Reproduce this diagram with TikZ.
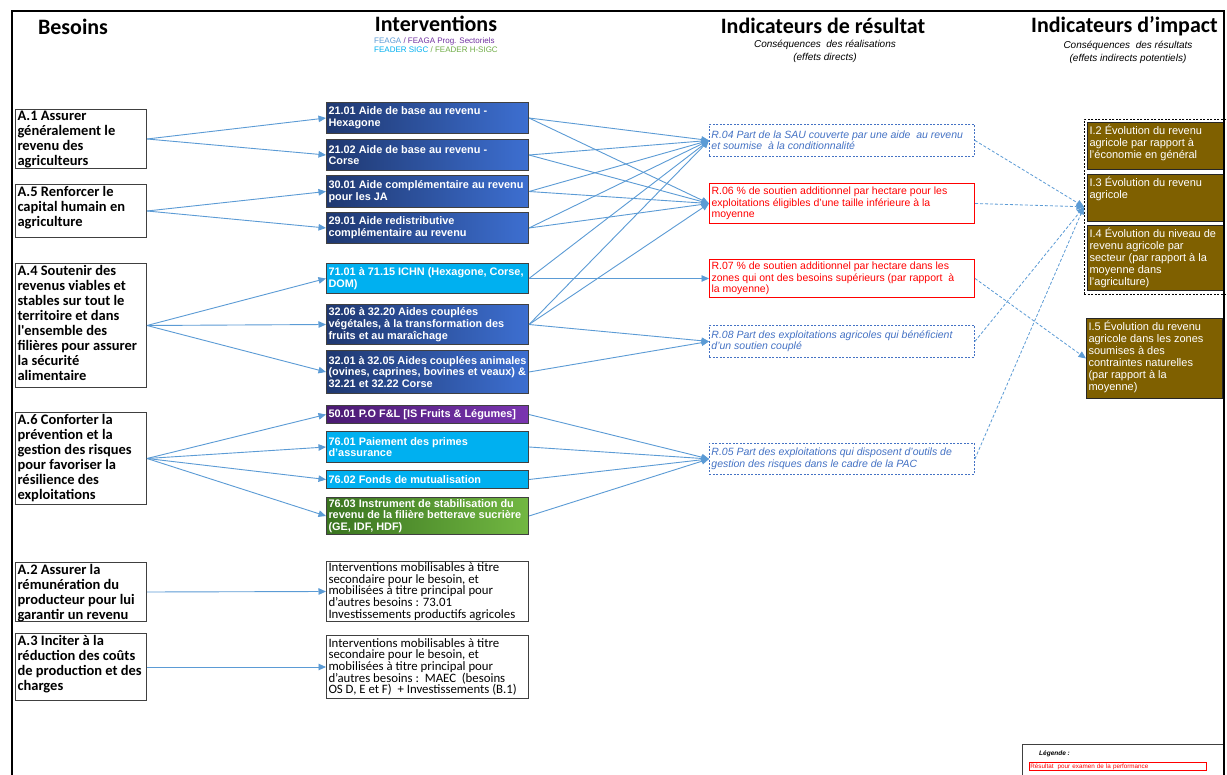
\documentclass[tikz,border=0pt]{standalone}
\usepackage{fontspec}
\setmainfont{Liberation Sans}
\newfontfamily\calfont{Carlito}
\usetikzlibrary{arrows.meta}

\definecolor{arrowblue}{HTML}{5B9BD5}
\definecolor{resblue}{HTML}{4472C4}
\definecolor{navyL}{HTML}{1F3870}
\definecolor{navyR}{HTML}{3D6FD1}
\definecolor{cyanbox}{HTML}{00B0F0}
\definecolor{purpL}{HTML}{4A1A72}
\definecolor{purpR}{HTML}{7A35B0}
\definecolor{greenL}{HTML}{3A7420}
\definecolor{greenR}{HTML}{72B842}
\definecolor{brownbox}{HTML}{7F6000}
\definecolor{boxborder}{HTML}{404040}
\definecolor{feaga}{HTML}{5B9BD5}
\definecolor{feagaps}{HTML}{7030A0}
\definecolor{hsigc}{HTML}{70AD47}

\newcommand\tb[4][t]{\parbox[c][#2][#1]{#3}{\raggedright #4}}

\begin{document}
\begin{tikzpicture}[x=1pt,y=-1pt,
  hdr/.style={font={\calfont\bfseries\fontsize{22}{24}\selectfont}, inner sep=0},
  subt/.style={font={\itshape\fontsize{10}{13}\selectfont}, align=center, inner sep=0},
  besoin/.style={draw=boxborder, line width=1pt, fill=white, inner sep=2pt, anchor=north west,
    font={\calfont\bfseries\fontsize{14.5}{15}\selectfont}},
  interv/.style={draw=boxborder, line width=1pt, inner sep=2pt, anchor=north west, text=white,
    font={\bfseries\fontsize{10.9}{11.7}\selectfont}},
  navy/.style={interv, left color=navyL, right color=navyR},
  cyanb/.style={interv, fill=cyanbox},
  purpb/.style={interv, left color=purpL, right color=purpR},
  greenb/.style={interv, left color=greenL, right color=greenR},
  secb/.style={draw=boxborder, line width=1pt, fill=white, inner sep=2pt, anchor=north west,
    font={\calfont\fontsize{12.8}{11.7}\selectfont}},
  resD/.style={draw=resblue, dash pattern=on 2pt off 1.5pt, line width=0.9pt, inner sep=2pt,
    anchor=north west, text=resblue, font={\itshape\fontsize{10.5}{11.5}\selectfont}},
  resR/.style={draw=red, line width=1pt, inner sep=2pt, anchor=north west, text=red,
    font={\fontsize{10.5}{11.5}\selectfont}},
  impact/.style={draw=black!85, fill=brownbox, line width=1pt, inner sep=2pt, anchor=north west,
    text=white, font={\fontsize{11}{12}\selectfont}},
  arr/.style={draw=arrowblue, line width=0.9pt, -{Triangle[length=7.5pt,width=6.5pt]}},
  darr/.style={draw=arrowblue, line width=0.8pt, dash pattern=on 3pt off 2pt,
    -{Triangle[length=7.5pt,width=6.5pt]}}
]
\useasboundingbox (0,0) rectangle (1227,775);
\clip (0,0) rectangle (1227,775);
\fill[white] (0,0) rectangle (1227,775);

% headers
\node[hdr] (hB) at (73,27) {Besoins};
\node[hdr] (hI) at (436,24) {Interventions};
\node[hdr] (hR) at (823,26) {Indicateurs de résultat};
\node[hdr, anchor=west] (hP) at (1031,26) {Indicateurs d’impact};
\node[anchor=west, inner sep=0, font={\fontsize{8}{9}\selectfont}] (fg1) at (374,41.5)
  {\textcolor{feaga}{FEAGA} \textcolor{feagaps}{/ FEAGA Prog. Sectoriels}};
\node[anchor=west, inner sep=0, font={\fontsize{8}{9}\selectfont}] (fg2) at (374,50)
  {\textcolor{cyanbox}{FEADER SIGC} \textcolor{hsigc}{/ FEADER H-SIGC}};
\node[subt] (sR) at (825,51.5) {Conséquences\ \ des réalisations\\(effets directs)};
\node[subt] (sP) at (1128,52) {Conséquences\ \ des résultats\\(effets indirects potentiels)};

% besoins
\node[besoin] (A1) at (15,109) {\tb{55pt}{127pt}{A.1 Assurer\\généralement le\\revenu des\\agriculteurs}};
\node[besoin] (A5) at (15,184) {\tb{49pt}{127pt}{A.5 Renforcer le\\capital humain en\\agriculture}};
\node[besoin] (A4) at (15,263) {\tb{120pt}{127pt}{A.4 Soutenir des\\revenus viables et\\stables sur tout le\\territoire et dans\\l'ensemble des\\filières pour assurer\\la sécurité\\alimentaire}};
\node[besoin] (A6) at (15,412) {\tb{88pt}{127pt}{A.6 Conforter la\\prévention et la\\gestion des risques\\pour favoriser la\\résilience des\\exploitations}};
\node[besoin] (A2) at (15,562) {\tb{55pt}{127pt}{A.2 Assurer la\\rémunération du\\producteur pour lui\\garantir un revenu}};
\node[besoin] (A3) at (15,633) {\tb{63pt}{127pt}{A.3 Inciter à la\\réduction des coûts\\de production et des\\charges}};

% interventions
\node[navy] (I2101) at (326,102) {\tb[c]{27pt}{198pt}{21.01 Aide de base au revenu -\\Hexagone}};
\node[navy] (I2102) at (326,139) {\tb[c]{27pt}{198pt}{21.02 Aide de base au revenu -\\Corse}};
\node[navy] (I3001) at (326,175) {\tb[c]{28pt}{198pt}{30.01 Aide complémentaire au revenu\\pour les JA}};
\node[navy] (I2901) at (326,212) {\tb[c]{27pt}{198pt}{29.01 Aide redistributive\\complémentaire au revenu}};
\node[cyanb] (I71) at (326,263) {\tb[c]{26pt}{198pt}{71.01 à 71.15 ICHN (Hexagone, Corse,\\DOM)}};
\node[navy] (I3206) at (326,304) {\tb[c]{36pt}{198pt}{32.06 à 32.20 Aides couplées\\végétales, à la transformation des\\fruits et au maraîchage}};
\node[navy] (I3201) at (326,350) {\tb[c]{39pt}{198pt}{32.01 à 32.05 Aides couplées animales\\(ovines, caprines, bovines et veaux) \&\\32.21 et 32.22 Corse}};
\node[purpb] (I50) at (326,405) {\tb[c]{14pt}{198pt}{50.01 P.O F\&L [IS Fruits \& Légumes]}};
\node[cyanb] (I7601) at (326,431) {\tb[c]{27pt}{198pt}{76.01 Paiement des primes\\d’assurance}};
\node[cyanb] (I7602) at (326,470) {\tb[c]{14pt}{198pt}{76.02 Fonds de mutualisation}};
\node[greenb] (I7603) at (326,497) {\tb[c]{33pt}{198pt}{76.03 Instrument de stabilisation du\\revenu de la filière betterave sucrière\\(GE, IDF, HDF)}};
\node[secb] (S1) at (326,561) {\tb[c]{56pt}{198pt}{Interventions mobilisables à titre\\secondaire pour le besoin, et\\mobilisées à titre principal pour\\d’autres besoins : 73.01\\Investissements productifs agricoles}};
\node[secb] (S2) at (326,635) {\tb[c]{59pt}{198pt}{Interventions mobilisables à titre\\secondaire pour le besoin, et\\mobilisées à titre principal pour\\d’autres besoins :\ \ MAEC\ \ (besoins\\OS D, E et F)\ \ + Investissements (B.1)}};

% results
\node[resD] (R04) at (709,124) {\tb[c]{28pt}{261pt}{R.04 Part de la SAU couverte par une aide\ \ au revenu\\et soumise\ \ à la conditionnalité}};
\node[resR] (R06) at (709,183) {\tb[c]{36pt}{261pt}{R.06 \% de soutien additionnel par hectare pour les\\exploitations éligibles d’une taille inférieure à la\\moyenne}};
\node[resR] (R07) at (709,259) {\tb[c]{34pt}{261pt}{R.07 \% de soutien additionnel par hectare dans les\\zones qui ont des besoins supérieurs (par rapport\ \ à\\la moyenne)}};
\node[resD] (R08) at (709,325) {\tb[c]{28pt}{261pt}{R.08 Part des exploitations agricoles qui bénéficient\\d’un soutien couplé}};
\node[resD] (R05) at (709,443) {\tb[c]{27pt}{261pt}{R.05 Part des exploitations qui disposent d’outils de\\gestion des risques dans le cadre de la PAC}};

% impacts
\node[draw=black, line width=0.6pt, dash pattern=on 2pt off 1.5pt, anchor=north west, inner sep=0,
  minimum width=148pt, minimum height=175pt] (G) at (1084,119) {};
\node[impact] (IM2) at (1087,122.5) {\tb{42.5pt}{133pt}{I.2 Évolution du revenu\\agricole par rapport à\\l’économie en général}};
\node[impact] (IM3) at (1087,174) {\tb{43pt}{133pt}{I.3 Évolution du revenu\\agricole}};
\node[impact] (IM4) at (1087,225) {\tb{61pt}{133pt}{I.4 Évolution du niveau de\\revenu agricole par\\secteur (par rapport à la\\moyenne dans\\l’agriculture)}};
\node[impact] (IM5) at (1086,318) {\tb{76pt}{132pt}{I.5 Évolution du revenu\\agricole dans les zones\\soumises à des\\contraintes naturelles\\(par rapport à la\\moyenne)}};

% connectors besoins -> interventions
\foreach \s/\t in {A1/I2101, A1/I2102, A5/I3001, A5/I2901, A4/I71, A4/I3206, A4/I3201,
  A6/I50, A6/I7601, A6/I7602, A6/I7603, A2/S1, A3/S2}
  \draw[arr] (\s.east) -- (\t.west);

% interventions -> results
\foreach \s/\t in {I2101/R04, I2101/R06, I2102/R04, I2102/R06, I3001/R04, I3001/R06,
  I2901/R04, I2901/R06, I71/R04, I71/R07, I3206/R04, I3206/R06, I3206/R08, I3201/R08,
  I50/R05, I7601/R05, I7602/R05, I7603/R05}
  \draw[arr] (\s.east) -- (\t.west);

% results -> impacts
\foreach \s/\t in {R04/G, R06/G, R08/G, R05/G, R07/IM5}
  \draw[darr] (\s.east) -- (\t.west);

% legend
\node[draw=boxborder, line width=0.8pt, anchor=north west, inner sep=0,
  minimum width=202pt, minimum height=40pt] (leg) at (1022,744) {};
\node[anchor=west, inner sep=0, font={\bfseries\itshape\fontsize{6.5}{7}\selectfont}] (legt) at (1039,754) {Légende :};
\node[draw=red, line width=0.8pt, anchor=north west, inner sep=1pt, text width=175pt, align=left,
  text=red, font={\fontsize{6.3}{7}\selectfont}] (legr) at (1029,762) {Résultat\ \ pour examen de la performance};

% frame
\draw[line width=2.5pt] (12,800) -- (12,11) -- (1224,11) -- (1224,800);
\end{tikzpicture}
\end{document}
